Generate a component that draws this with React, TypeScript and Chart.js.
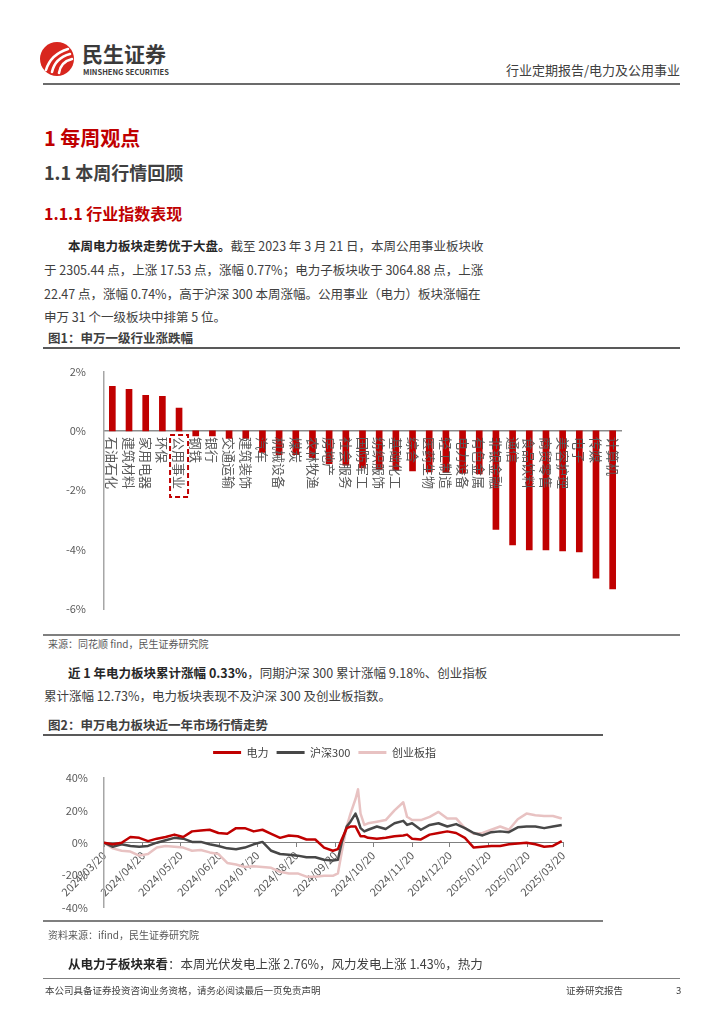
import React, { useEffect, useRef } from 'react';
import { Chart, registerables } from 'chart.js';

Chart.register(...registerables);

const FONT = '"Noto Sans CJK SC", "Noto Sans", sans-serif';

// ---------- Figure 1 data ----------
const industries = [
  '石油石化', '建筑材料', '家用电器', '环保', '公用事业', '钢铁', '银行', '交通运输', '建筑装饰', '汽车',
  '机械设备', '煤炭', '农林牧渔', '房地产', '社会服务', '国防军工', '纺织服饰', '基础化工', '综合', '医药生物',
  '轻工制造', '电力设备', '有色金属', '非银金融', '通信', '食品饮料', '商贸零售', '美容护理', '电子', '传媒', '计算机',
];
const industryChange = [
  1.5, 1.4, 1.2, 1.17, 0.77, -0.17, -0.17, -0.25, -0.25, -0.72,
  -0.8, -0.8, -0.9, -1.1, -1.15, -1.25, -1.3, -1.32, -1.35, -1.38,
  -1.4, -1.42, -1.45, -3.32, -3.84, -4.01, -4.01, -4.04, -4.08, -4.96, -5.32,
];
const highlightName = '公用事业';
const fig1YTicks = [2, 0, -2, -4, -6];

// ---------- Figure 2 data ----------
const seriesNames = ['电力', '沪深300', '创业板指'];
const dayOffsets = [
  0, 7, 14, 21, 28, 35, 42, 49, 56, 63, 70, 77, 84, 91, 98, 105, 112, 119, 126, 133,
  140, 147, 154, 161, 168, 175, 182, 186, 189, 193, 196, 200, 202, 204, 207, 210, 217, 224, 231, 238,
  241, 245, 252, 259, 266, 273, 280, 287, 294, 301, 308, 315, 322, 329, 336, 343, 350, 357, 364,
];
const powerReturn = [
  0, -1, 0, 3.5, 3, 1, 2.5, 3.5, 5, 3.5, 7, 7.5, 8, 6, 5.5, 9, 9, 7, 8, 5.5,
  3, 4.5, 4, 2, 2, -3, -5, -4, 2, 9, 10, 10, 7, 4, 4, 3, 2.5, 3, 4, 4.5,
  5, 2.5, 2, 5, 6, 7, 6, 3, -3, -2.5, -2, -2, -1, -0.5, 0, -1, -2.5, -2, 1,
];
const hs300Return = [
  0, -2.5, -1, -2, -2.5, -2, 0, 1.5, 3, 2.5, 0.5, 0.5, -1, -2, -3.5, -4, -3, -1, 0.5, -5,
  -7, -7.5, -8, -9, -9, -10.5, -11, -10.5, 0, 10, 13, 18, 14, 9, 7, 8, 10, 8.5, 12, 13.5,
  11, 12, 8, 11, 12, 10, 11.5, 9, 6, 4.5, 6.5, 7, 6.5, 9.5, 10, 10, 9, 10, 11,
];
const chinextReturn = [
  0, -3.5, -5, -5.5, -8, -7, -3, -2, -2.5, -3, -5, -4.5, -6, -7, -12.5, -13.5, -15, -14.5, -15, -15.5,
  -18, -19, -19, -21, -21, -20.5, -20.5, -19, -6, 10, 18, 27, 33, 18, 11, 12, 13, 14, 20, 25,
  16, 14, 14, 16, 19, 15, 15, 9, 5.5, 6, 8, 10, 8, 14.5, 18, 17, 16.5, 16.5, 15,
];
const monthTickDays = [0, 31, 61, 92, 122, 153, 184, 214, 245, 275, 306, 337, 365];
const monthTickLabels = [
  '2024/03/20', '2024/04/20', '2024/05/20', '2024/06/20', '2024/07/20', '2024/08/20', '2024/09/20',
  '2024/10/20', '2024/11/20', '2024/12/20', '2025/01/20', '2025/02/20', '2025/03/20',
];
const fig2YTicks = [40, 20, 0, -20, -40];
const seriesColors = ['#C00000', '#474747', '#E8C2C2'];

function BarChart() {
  const ref = useRef<HTMLCanvasElement>(null);
  useEffect(() => {
    // category labels rotated 90° clockwise (reading top-to-bottom) just below the zero line
    const rotatedLabels = {
      id: 'rotatedLabels',
      afterDraw(chart: any) {
        const xs = chart.scales.x;
        const y0 = chart.scales.y.getPixelForValue(0);
        const ctx = chart.ctx;
        const labels = chart.data.labels as string[];
        ctx.save();
        ctx.fillStyle = '#595959';
        ctx.font = `13px ${FONT}`;
        ctx.textAlign = 'left';
        ctx.textBaseline = 'middle';
        labels.forEach((lab, i) => {
          const x = xs.getPixelForTick(i);
          ctx.save();
          ctx.translate(x, y0 + 6);
          ctx.rotate(Math.PI / 2);
          ctx.fillText(lab, 0, 0);
          ctx.restore();
        });
        const idx = labels.indexOf(highlightName);
        const hx = xs.getPixelForTick(idx);
        ctx.strokeStyle = '#C00000';
        ctx.lineWidth = 2;
        ctx.setLineDash([5, 3]);
        ctx.strokeRect(hx - 9, y0 + 4, 18, 62);
        ctx.restore();
      },
    };
    const chart = new Chart(ref.current as HTMLCanvasElement, {
      type: 'bar',
      data: {
        labels: industries,
        datasets: [{ data: industryChange, backgroundColor: '#C00000', barThickness: 6 }],
      },
      options: {
        responsive: false,
        animation: false,
        layout: { padding: { top: 15, bottom: 21, right: 19, left: 0 } },
        plugins: { legend: { display: false }, tooltip: { enabled: false } },
        scales: {
          x: {
            type: 'category',
            position: { y: 0 } as any,
            grid: { display: false },
            border: { color: '#8C8C8C', width: 1.5 },
            ticks: { display: false, autoSkip: false },
            afterFit: (s: any) => { s.height = 0; },
          } as any,
          y: {
            min: -6,
            max: 2,
            afterBuildTicks: (s: any) => { s.ticks = fig1YTicks.map((v) => ({ value: v })); },
            ticks: {
              padding: 10,
              color: '#595959',
              font: { family: FONT, size: 11 },
              callback: (v: any) => v + '%',
            },
            grid: { display: false },
            border: { color: '#A6A6A6', width: 1.5 },
            afterFit: (s: any) => { s.width = 64; },
          } as any,
        },
      },
      plugins: [rotatedLabels],
    });
    return () => chart.destroy();
  }, []);
  return <canvas ref={ref} width={600} height={275} style={{ position: 'absolute', left: 40, top: 355 }} />;
}

function LineChart() {
  const ref = useRef<HTMLCanvasElement>(null);
  useEffect(() => {
    const legendPlacement = {
      id: 'legendPlacement',
      beforeUpdate(chart: any) {
        const lg = chart.legend;
        if (lg && !lg.__patched) {
          const f = lg.fit;
          lg.fit = function () { f.call(this); this.height += 10; };
          lg.__patched = true;
        }
      },
      afterLayout(chart: any) {
        const lg = chart.legend;
        if (lg) {
          lg.right = chart.width - 1;
          lg.width = lg.right - lg.left;
        }
      },
    };
    const seriesValues = [powerReturn, hs300Return, chinextReturn];
    const chart = new Chart(ref.current as HTMLCanvasElement, {
      type: 'line',
      data: {
        datasets: seriesNames.map((name, k) => ({
          label: name,
          data: dayOffsets.map((d, i) => ({ x: d, y: seriesValues[k][i] })),
          borderColor: seriesColors[k],
          backgroundColor: seriesColors[k],
          borderWidth: 2.5,
          pointRadius: 0,
          tension: 0,
          fill: false,
          borderJoinStyle: 'round' as const,
        })),
      },
      options: {
        responsive: false,
        animation: false,
        layout: { padding: { top: 0, bottom: 12, right: 47, left: 0 } },
        plugins: {
          tooltip: { enabled: false },
          legend: {
            position: 'top',
            labels: {
              boxWidth: 28,
              boxHeight: 3,
              padding: 8,
              color: '#404040',
              font: { family: FONT, size: 11 },
              generateLabels: (ch: any) =>
                (Chart.defaults.plugins.legend.labels.generateLabels as any)(ch).map((it: any) => ({ ...it, lineWidth: 0 })),
            },
          },
        },
        scales: {
          x: {
            type: 'linear',
            position: { y: 0 } as any,
            min: 0,
            max: 365,
            afterBuildTicks: (s: any) => { s.ticks = monthTickDays.map((v) => ({ value: v })); },
            grid: { drawOnChartArea: false, drawTicks: true, tickLength: 4, color: '#808080' },
            border: { color: '#808080', width: 1 },
            ticks: {
              autoSkip: false,
              minRotation: 45,
              maxRotation: 45,
              padding: 2,
              color: '#595959',
              font: { family: FONT, size: 11 },
              callback: (_v: any, i: number) => monthTickLabels[i],
            },
            afterFit: (s: any) => { s.height = 0; },
          } as any,
          y: {
            min: -40,
            max: 40,
            afterBuildTicks: (s: any) => { s.ticks = fig2YTicks.map((v) => ({ value: v })); },
            ticks: {
              padding: 8,
              color: '#595959',
              font: { family: FONT, size: 11 },
              callback: (v: any) => v + '%',
            },
            grid: { display: false },
            border: { color: '#A6A6A6', width: 1.5 },
            afterFit: (s: any) => { s.width = 64; },
          } as any,
        },
      },
      plugins: [legendPlacement],
    });
    return () => chart.destroy();
  }, []);
  return <canvas ref={ref} width={570} height={183} style={{ position: 'absolute', left: 40, top: 739 }} />;
}

type TProps = {
  y: number; x: number; size: number; w?: number; bold?: boolean; color?: string;
  justify?: boolean; children: React.ReactNode; right?: number;
};
function T({ y, x, size, w, bold, color, justify, children, right }: TProps) {
  const lh = Math.round(size * 1.5);
  const style: React.CSSProperties = {
    position: 'absolute',
    top: y - lh / 2,
    fontSize: size,
    lineHeight: lh + 'px',
    fontWeight: bold ? 700 : 400,
    color: color || '#404040',
    whiteSpace: 'nowrap',
    fontFamily: FONT,
  };
  if (right !== undefined) style.right = right; else style.left = x;
  if (w) { style.width = w; }
  if (justify) { style.textAlign = 'justify'; (style as any).textAlignLast = 'justify'; }
  return <div style={style}>{children}</div>;
}

function HLine({ y, x1, x2, h, color }: { y: number; x1: number; x2: number; h: number; color: string }) {
  return <div style={{ position: 'absolute', top: y, left: x1, width: x2 - x1, height: h, background: color }} />;
}

const B = ({ children }: { children: React.ReactNode }) => <b style={{ color: '#262626', fontWeight: 700 }}>{children}</b>;

export default function App() {
  const RED = '#C00000';
  return (
    <div style={{ position: 'absolute', left: 0, top: 0, width: 724, height: 1024, background: '#fff', overflow: 'hidden', fontFamily: FONT }}>
      {/* Header */}
      <svg width="36" height="36" viewBox="0 0 36 36" style={{ position: 'absolute', left: 39, top: 41 }}>
        <circle cx="18" cy="18" r="17" fill="#D8261E" />
        <path d="M7 29 C 10 19, 16 12, 29 8" stroke="#fff" strokeWidth="2.6" fill="none" strokeLinecap="round" />
        <path d="M13 31 C 15 22, 20 16, 31 13" stroke="#fff" strokeWidth="2.6" fill="none" strokeLinecap="round" />
        <path d="M20 32 C 21 25, 25 20, 33 18" stroke="#fff" strokeWidth="2.6" fill="none" strokeLinecap="round" />
      </svg>
      <T x={82} y={53} size={21} bold color="#3A3A3A">民生证券</T>
      <T x={83} y={71} size={7.5} bold color="#3A3A3A">MINSHENG SECURITIES</T>
      <T x={0} right={44} y={70} size={13} color="#404040">行业定期报告/电力及公用事业</T>
      <HLine y={83} x1={43} x2={680} h={1.5} color="#6B6B6B" />

      {/* Headings */}
      <T x={44} y={138} size={20} bold color={RED}>1 每周观点</T>
      <T x={44} y={172} size={18} bold color="#404040">1.1 本周行情回顾</T>
      <T x={44} y={213} size={16} bold color={RED}>1.1.1 行业指数表现</T>

      {/* Paragraph 1 */}
      <T x={68} y={245} size={12.5} w={403} justify><B>本周电力板块走势优于大盘。</B>截至 2023 年 3 月 21 日，本周公用事业板块收</T>
      <T x={44} y={269} size={12.5} w={427} justify>于 2305.44 点，上涨 17.53 点，涨幅 0.77%；电力子板块收于 3064.88 点，上涨</T>
      <T x={44} y={293} size={12.5} w={427} justify>22.47 点，涨幅 0.74%，高于沪深 300 本周涨幅。公用事业（电力）板块涨幅在</T>
      <T x={44} y={316} size={12.5}>申万 31 个一级板块中排第 5 位。</T>

      {/* Figure 1 */}
      <T x={48} y={337} size={12.5} bold color="#404040">图1：申万一级行业涨跌幅</T>
      <HLine y={347} x1={43} x2={680} h={1.5} color="#595959" />
      <BarChart />
      <HLine y={634} x1={43} x2={680} h={1.5} color="#7F7F7F" />
      <T x={48} y={643} size={10} color="#595959">来源：同花顺 find，民生证券研究院</T>

      {/* Paragraph 2 */}
      <T x={68} y={672} size={12.5} w={403} justify><B>近 1 年电力板块累计涨幅 0.33%</B>，同期沪深 300 累计涨幅 9.18%、创业指板</T>
      <T x={44} y={695} size={12.5}>累计涨幅 12.73%，电力板块表现不及沪深 300 及创业板指数。</T>

      {/* Figure 2 */}
      <T x={48} y={724} size={12.5} bold color="#404040">图2：申万电力板块近一年市场行情走势</T>
      <HLine y={734} x1={43} x2={603} h={1.5} color="#595959" />
      <LineChart />
      <HLine y={920} x1={43} x2={603} h={1.5} color="#7F7F7F" />
      <T x={48} y={934} size={10} color="#595959">资料来源：ifind，民生证券研究院</T>

      {/* Paragraph 3 */}
      <T x={68} y={963} size={12.5} w={403} justify><B>从电力子板块来看</B>：本周光伏发电上涨 2.76%，风力发电上涨 1.43%，热力</T>

      {/* Footer */}
      <HLine y={978} x1={43} x2={680} h={1} color="#7F7F7F" />
      <T x={45} y={990} size={9.5} color="#404040">本公司具备证券投资咨询业务资格，请务必阅读最后一页免责声明</T>
      <T x={566} y={990} size={9.5} color="#404040">证券研究报告</T>
      <T x={676} y={990} size={9.5} color="#404040">3</T>
    </div>
  );
}
